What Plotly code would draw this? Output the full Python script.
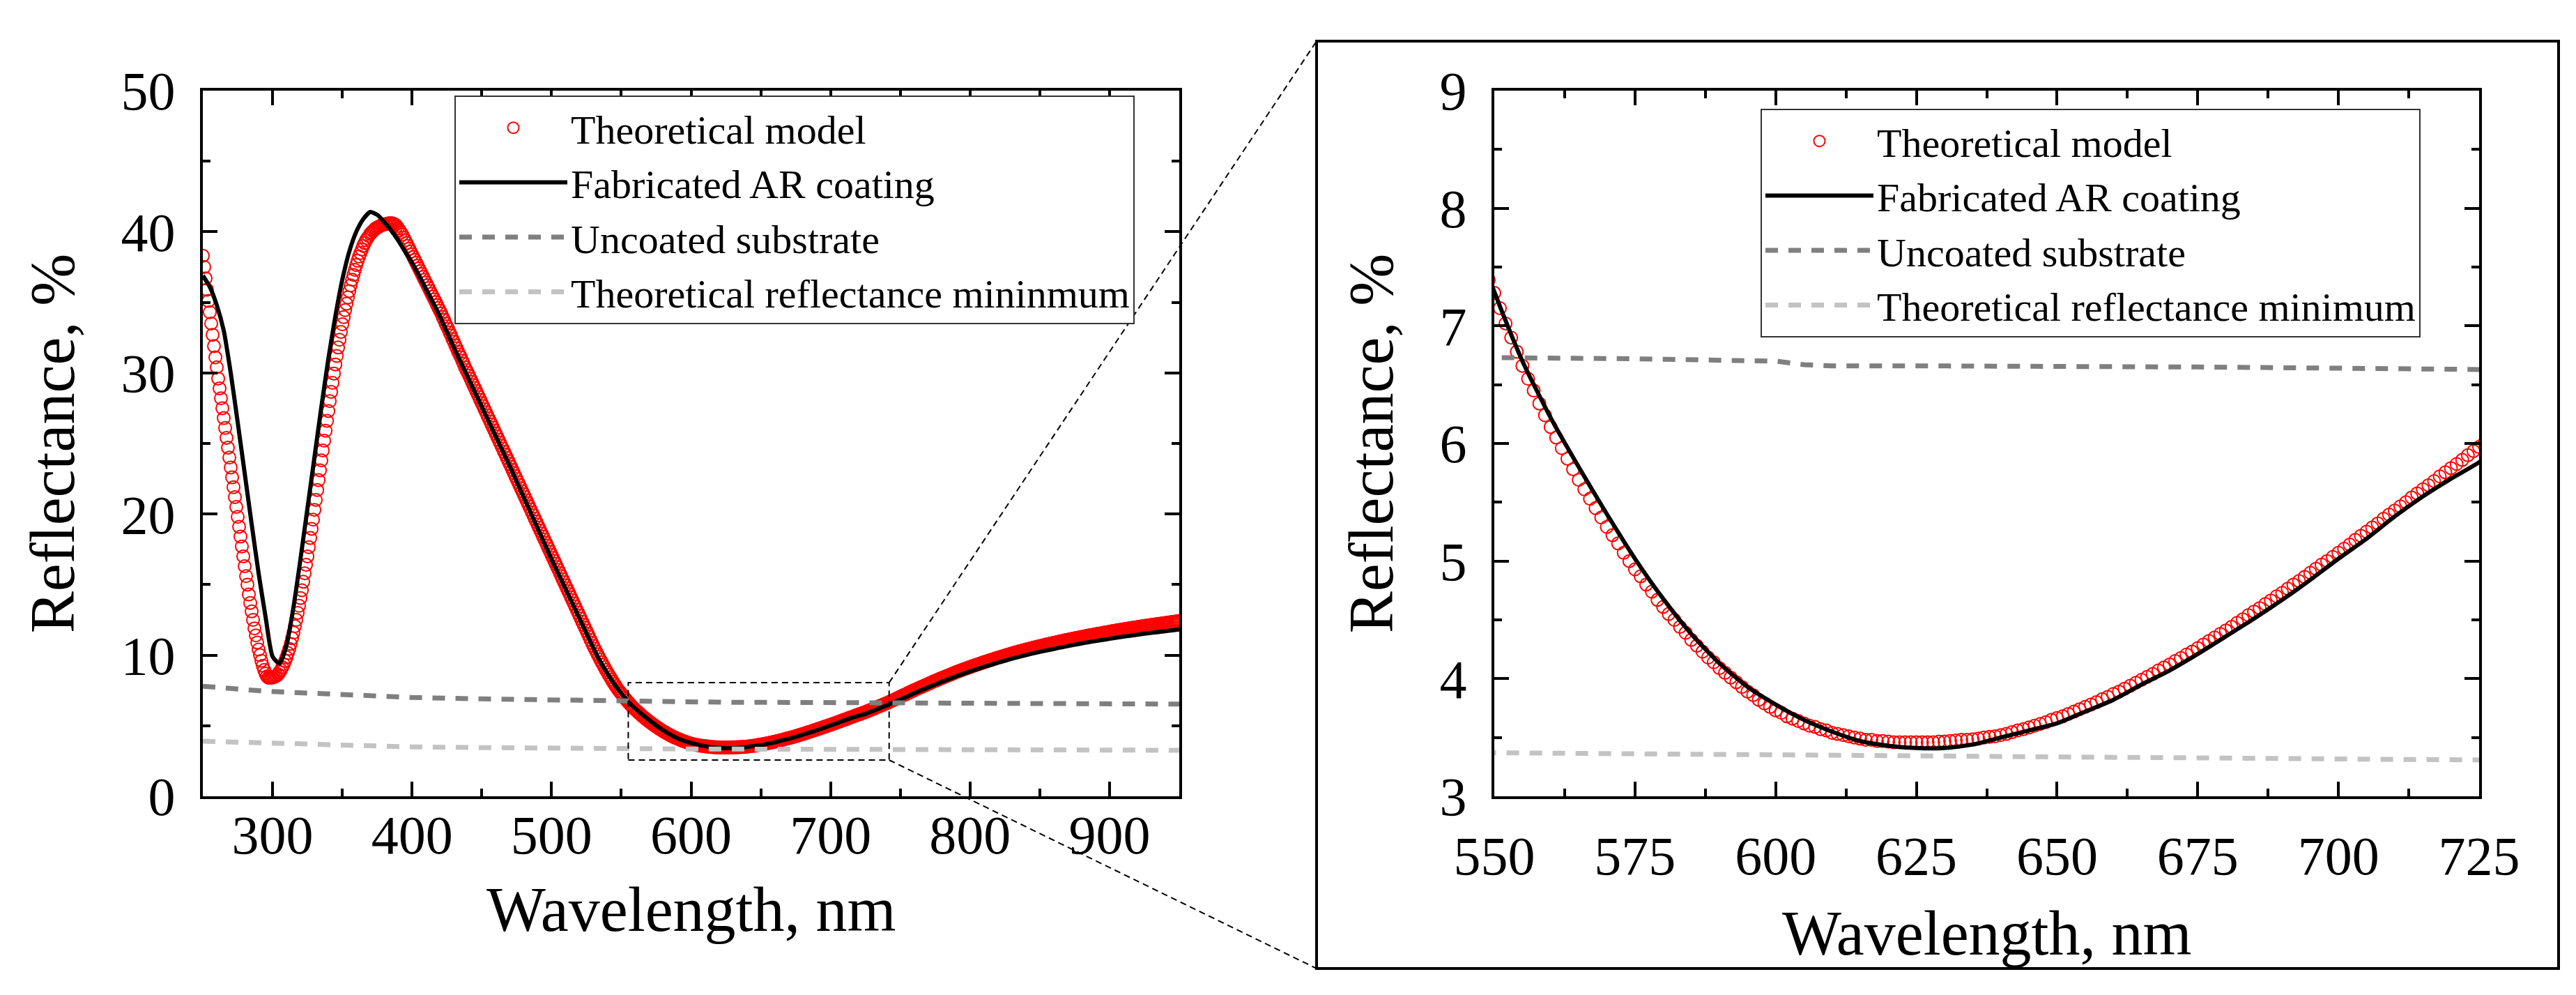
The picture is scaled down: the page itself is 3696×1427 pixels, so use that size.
import plotly.graph_objects as go

# ---------------- data ----------------
# Theoretical model (1 nm sampling), split in segments keyed by start wavelength
model_250 = [38.3, 37.5, 36.7, 35.9, 35.1, 34.3, 33.5, 32.7, 31.9, 31.1,
             30.4, 29.6, 28.9, 28.2, 27.5, 26.8, 26.1, 25.4, 24.7, 24.0,
             23.3, 22.6, 21.9, 21.2, 20.5, 19.8, 19.1, 18.4, 17.7, 17.0,
             16.3, 15.6, 15.0, 14.3, 13.7, 13.1, 12.5, 11.9, 11.4, 10.9,
             10.4, 10.0, 9.6, 9.25, 8.95, 8.7, 8.5, 8.4, 8.4, 8.4]
model_300 = [8.42, 8.45, 8.5, 8.55, 8.65, 8.8, 8.95, 9.15, 9.35, 9.6,
             9.85, 10.15, 10.45, 10.8, 11.2, 11.6, 12.05, 12.5, 13.0, 13.5,
             14.05, 14.6, 15.2, 15.8, 16.4, 17.0, 17.65, 18.3, 18.95, 19.6,
             20.3, 21.0, 21.7, 22.4, 23.1, 23.8, 24.5, 25.2, 25.9, 26.6,
             27.3, 28.0, 28.65, 29.3, 29.95, 30.6, 31.2, 31.8, 32.35, 32.9,
             33.45, 33.95, 34.45, 34.9, 35.35, 35.8, 36.2, 36.6, 36.95, 37.3,
             37.65, 37.95, 38.25, 38.5, 38.75, 39.0, 39.2, 39.4, 39.55, 39.7,
             39.85, 39.95, 40.05, 40.15, 40.25, 40.3, 40.35, 40.4, 40.45, 40.5,
             40.5, 40.55, 40.55, 40.6, 40.6, 40.6, 40.6, 40.55, 40.5, 40.4]
model_390 = [40.25, 40.1, 39.95, 39.8, 39.6, 39.4, 39.2, 39.0, 38.8, 38.6,
             38.4, 38.2, 38.0, 37.8, 37.6, 37.4, 37.2, 37.0, 36.8, 36.6,
             36.4, 36.2, 36.0, 35.8, 35.6, 35.4, 35.2, 35.0, 34.8, 34.6,
             34.4, 34.2, 33.95, 33.75, 33.5, 33.3, 33.1, 32.85, 32.65, 32.4,
             32.2, 31.95, 31.75, 31.5, 31.3, 31.1, 30.85, 30.65, 30.4, 30.2]
model_440 = [30.00, 29.79, 29.57, 29.36, 29.14, 28.93, 28.71, 28.50, 28.28, 28.07,
             27.85, 27.64, 27.42, 27.21, 26.99, 26.78, 26.56, 26.35, 26.13, 25.92,
             25.70, 25.49, 25.27, 25.06, 24.84, 24.63, 24.41, 24.20, 23.98, 23.77,
             23.55, 23.34, 23.12, 22.91, 22.69, 22.48, 22.26, 22.05, 21.83, 21.62,
             21.40, 21.19, 20.97, 20.76, 20.54, 20.33, 20.11, 19.90, 19.68, 19.47,
             19.25, 19.04, 18.82, 18.61, 18.39, 18.18, 17.96, 17.75, 17.53, 17.32,
             17.10, 16.89, 16.67, 16.46, 16.24, 16.03, 15.81, 15.60, 15.38, 15.17,
             14.95, 14.74, 14.52, 14.31, 14.09, 13.88, 13.66, 13.45, 13.23, 13.02,
             12.80, 12.59, 12.37, 12.16, 11.94, 11.73, 11.51, 11.30, 11.08, 10.87]
model_530 = [10.65, 10.45, 10.25, 10.06, 9.87, 9.68, 9.49, 9.31, 9.13, 8.95,
             8.78, 8.61, 8.44, 8.28, 8.12, 7.96, 7.81, 7.66, 7.52, 7.39]
model_550 = [7.28, 7.15, 7.02, 6.90, 6.78, 6.66, 6.55, 6.45, 6.34, 6.24,
             6.14, 6.05, 5.96, 5.87, 5.78, 5.69, 5.61, 5.53, 5.45, 5.37,
             5.29, 5.22, 5.15, 5.07, 5.00, 4.93, 4.87, 4.80, 4.74, 4.67,
             4.61, 4.55, 4.50, 4.44, 4.39, 4.33, 4.28, 4.23, 4.18, 4.14,
             4.09, 4.05, 4.01, 3.97, 3.93, 3.89, 3.86, 3.82, 3.79, 3.76,
             3.73, 3.71, 3.68, 3.66, 3.64, 3.62, 3.60, 3.59, 3.57, 3.56,
             3.54, 3.53, 3.52, 3.51, 3.50, 3.49, 3.48, 3.48, 3.47, 3.47,
             3.465, 3.46, 3.46, 3.46, 3.46, 3.46, 3.46, 3.46, 3.46, 3.465,
             3.465, 3.47, 3.475, 3.48, 3.48, 3.485, 3.49, 3.50, 3.505, 3.51,
             3.52, 3.53, 3.545, 3.56, 3.57, 3.585, 3.60, 3.615, 3.63, 3.65,
             3.665, 3.68, 3.70, 3.72, 3.74, 3.76, 3.78, 3.80, 3.825, 3.845,
             3.87, 3.89, 3.915, 3.94, 3.965, 3.99, 4.015, 4.04, 4.07, 4.095,
             4.12, 4.15, 4.175, 4.205, 4.23, 4.26, 4.29, 4.32, 4.35, 4.38,
             4.41, 4.44, 4.475, 4.505, 4.54, 4.57, 4.60, 4.635, 4.665, 4.70,
             4.73, 4.765, 4.80, 4.83, 4.865, 4.90, 4.935, 4.97, 5.00, 5.035,
             5.07, 5.105, 5.14, 5.18, 5.215, 5.25, 5.285, 5.32, 5.36, 5.395,
             5.43, 5.465, 5.50, 5.54, 5.575, 5.61, 5.645, 5.68, 5.72, 5.755,
             5.79, 5.825, 5.86, 5.90, 5.935]
model_725 = [5.97, 6.01, 6.05, 6.09, 6.13, 6.17, 6.21, 6.25, 6.30, 6.34,
             6.38, 6.42, 6.46, 6.51, 6.55, 6.59, 6.63, 6.68, 6.72, 6.77,
             6.81, 6.86, 6.91, 6.95, 7.00, 7.05, 7.10, 7.15, 7.19, 7.24,
             7.29, 7.34, 7.38, 7.43, 7.47, 7.52, 7.56, 7.61, 7.65, 7.70,
             7.74, 7.78, 7.83, 7.87, 7.92, 7.96, 8.00, 8.05, 8.09, 8.14,
             8.18, 8.22, 8.26, 8.31, 8.35, 8.39, 8.43, 8.47, 8.51, 8.55,
             8.59, 8.63, 8.67, 8.71, 8.75, 8.79, 8.83, 8.87, 8.90, 8.94,
             8.98, 9.02, 9.05, 9.09, 9.12, 9.16, 9.19, 9.23, 9.26, 9.30,
             9.33, 9.36, 9.40, 9.43, 9.47, 9.50, 9.53, 9.56, 9.60, 9.63,
             9.66, 9.69, 9.72, 9.76, 9.79, 9.82, 9.85, 9.88, 9.91, 9.94,
             9.97, 10.00, 10.03, 10.06, 10.09, 10.12, 10.15, 10.18, 10.20, 10.23,
             10.26, 10.29, 10.31, 10.34, 10.36, 10.39, 10.42, 10.44, 10.47, 10.49,
             10.52, 10.54, 10.57, 10.59, 10.62, 10.64, 10.66, 10.69, 10.71, 10.74,
             10.76, 10.78, 10.80, 10.83, 10.85, 10.87, 10.89, 10.91, 10.94, 10.96,
             10.98, 11.00, 11.02, 11.05, 11.07, 11.09, 11.11, 11.13, 11.15, 11.17,
             11.19, 11.21, 11.23, 11.25, 11.27, 11.29, 11.31, 11.33, 11.35, 11.37,
             11.39, 11.41, 11.43, 11.44, 11.46, 11.48, 11.50, 11.52, 11.53, 11.55,
             11.57, 11.59, 11.61, 11.62, 11.64, 11.66, 11.68, 11.70, 11.71, 11.73,
             11.75, 11.77, 11.78, 11.80, 11.81, 11.83, 11.85, 11.86, 11.88, 11.89,
             11.91, 11.93, 11.94, 11.96, 11.97, 11.99, 12.01, 12.02, 12.04, 12.05,
             12.07, 12.08, 12.10, 12.11, 12.13, 12.14, 12.15, 12.17, 12.18, 12.20,
             12.21, 12.22, 12.24, 12.25, 12.27, 12.28, 12.29, 12.31, 12.32, 12.34,
             12.35, 12.36, 12.38, 12.39, 12.41, 12.42]
model_segments = [(250, model_250), (300, model_300), (390, model_390), (440, model_440),
                  (530, model_530), (550, model_550), (725, model_725)]

# Fabricated AR coating (measured, 5 nm sampling)
meas_wl = list(range(250, 951, 5))
meas_R = [36.9, 36.1, 34.8, 33.0, 30.0, 26.5, 22.9, 19.3, 15.8, 12.7,
          9.9, 9.4, 10.7, 13.4, 16.8, 20.4, 24.0, 27.6, 31.0, 34.0,
          36.6, 38.6, 40.0, 40.9, 41.4, 41.2, 40.7, 40.1, 39.4, 38.6,
          37.8, 36.9, 35.95, 35.0, 34.0, 32.9, 31.8, 30.75, 29.7, 28.65,
          27.6, 26.55, 25.5, 24.45, 23.4, 22.3, 21.2, 20.1, 19.0, 17.9,
          16.8, 15.75, 14.7, 13.65, 12.6, 11.55, 10.5, 9.55, 8.7, 7.95,
          7.29, 6.70, 6.22, 5.80, 5.40, 5.02, 4.68, 4.38, 4.13, 3.93,
          3.78, 3.65, 3.55, 3.47, 3.43, 3.41, 3.41, 3.44, 3.50, 3.56,
          3.62, 3.72, 3.82, 3.95, 4.07, 4.21, 4.36, 4.51, 4.67, 4.84,
          5.02, 5.19, 5.38, 5.55, 5.70, 5.84, 6.03, 6.23, 6.43, 6.64,
          6.85, 7.08, 7.30, 7.51, 7.72, 7.92, 8.12, 8.31, 8.50, 8.68,
          8.85, 9.01, 9.17, 9.32, 9.47, 9.61, 9.75, 9.88, 10.00, 10.12,
          10.23, 10.34, 10.44, 10.54, 10.64, 10.74, 10.83, 10.92, 11.00, 11.08,
          11.16, 11.24, 11.31, 11.38, 11.45, 11.52, 11.58, 11.64, 11.70, 11.76,
          11.82]

# Uncoated substrate
sub_wl = [250, 260, 270, 280, 290, 300, 325, 350, 375, 400, 450, 500, 550, 575,
          600, 605, 610, 625, 650, 675, 700, 725, 750, 800, 850, 900, 950]
sub_R = [7.80, 7.70, 7.62, 7.55, 7.48, 7.42, 7.30, 7.18, 7.08, 7.00, 6.90, 6.81, 6.73, 6.72,
         6.70, 6.67, 6.66, 6.66, 6.66, 6.65, 6.64, 6.62, 6.61, 6.59, 6.57, 6.55, 6.53]

# Theoretical reflectance minimum
tmin_wl = [250, 275, 300, 325, 350, 400, 450, 500, 550, 600, 650, 700, 725, 750, 800, 850, 900, 950]
tmin_R = [3.90, 3.82, 3.75, 3.66, 3.58, 3.50, 3.45, 3.40, 3.37, 3.35, 3.34, 3.32, 3.31, 3.30,
          3.29, 3.28, 3.27, 3.26]

names_left = ["Theoretical model", "Fabricated AR coating", "Uncoated substrate",
              "Theoretical reflectance mininmum"]
names_right = ["Theoretical model", "Fabricated AR coating", "Uncoated substrate",
               "Theoretical reflectance minimum"]
x_title = "Wavelength, nm"
y_title = "Reflectance, %"

# axis ranges / zoom window
left_xrange, left_yrange = [250, 950], [0, 50]
right_xrange, right_yrange = [550, 725], [3, 9]
zoom_box_x, zoom_box_y = [555, 742], [2.57, 8.05]

# build model arrays
model_wl, model_R = [], []
for start, vals in model_segments:
    model_wl += [start + i for i in range(len(vals))]
    model_R += vals

# ---------------- layout geometry ----------------
W, H = 3696, 1427
FONT = "Liberation Serif"
left_xdom = [283 / W, 1684 / W]
right_xdom = [2136 / W, 3549 / W]
ydom = [1 - 1134 / H, 1 - 122 / H]
outer = dict(x0=1881 / W, x1=3663 / W, y0=1 - 1381 / H, y1=1 - 51 / H)
xtitle_y_left = 1 - 1296 / H
xtitle_y_right = 1 - 1330 / H

RED = "#ff0000"
DARK = "#7f7f7f"
LIGHT = "#c3c3c3"

fig = go.Figure()


def add_set(xa, ya, leg, names):
    fig.add_trace(go.Scatter(x=model_wl, y=model_R, mode="markers", name=names[0],
                             marker=dict(symbol="circle-open", size=18, color=RED,
                                         line=dict(width=2, color=RED)),
                             xaxis=xa, yaxis=ya, legend=leg))
    fig.add_trace(go.Scatter(x=meas_wl, y=meas_R, mode="lines", name=names[1],
                             line=dict(color="black", width=6, shape="spline", smoothing=0.6),
                             xaxis=xa, yaxis=ya, legend=leg))
    fig.add_trace(go.Scatter(x=sub_wl, y=sub_R, mode="lines", name=names[2],
                             line=dict(color=DARK, width=7, dash="18px,15px"),
                             xaxis=xa, yaxis=ya, legend=leg))
    fig.add_trace(go.Scatter(x=tmin_wl, y=tmin_R, mode="lines", name=names[3],
                             line=dict(color=LIGHT, width=7, dash="18px,15px"),
                             xaxis=xa, yaxis=ya, legend=leg))


add_set("x", "y", "legend", names_left)
add_set("x2", "y2", "legend2", names_right)


def axis_common(**kw):
    d = dict(showline=True, linewidth=4, linecolor="black", mirror="ticks",
             ticks="inside", ticklen=21, tickwidth=4, tickcolor="black",
             showgrid=False, zeroline=False, automargin=False,
             tickfont=dict(family=FONT, size=78, color="black"),
             title_font=dict(family=FONT, size=90, color="black"))
    d.update(kw)
    return d


def legend_common(x, y):
    return dict(x=x, y=y, xanchor="left", yanchor="top",
                bordercolor="#333333", borderwidth=2, bgcolor="white",
                font=dict(family=FONT, size=58, color="black"), itemwidth=155,
                traceorder="normal")


fig.update_layout(
    template="none",
    width=W, height=H, autosize=False,
    margin=dict(l=0, r=0, t=0, b=0, pad=0),
    paper_bgcolor="white", plot_bgcolor="white",
    font=dict(family=FONT, color="black"),
    xaxis=axis_common(domain=left_xdom, range=left_xrange, anchor="y", dtick=100, tick0=0,
                      minor=dict(dtick=50, ticks="inside", ticklen=11, tickwidth=4, tickcolor="black"),
                      ticklabelstandoff=-16),
    yaxis=axis_common(domain=ydom, range=left_yrange, anchor="x", dtick=10, tick0=0,
                      minor=dict(dtick=5, ticks="inside", ticklen=11, tickwidth=4, tickcolor="black"),
                      title=dict(text=y_title, standoff=38), ticklabelstandoff=20),
    xaxis2=axis_common(domain=right_xdom, range=right_xrange, anchor="y2", dtick=25, tick0=550,
                       minor=dict(dtick=12.5, ticks="inside", ticklen=11, tickwidth=4, tickcolor="black"),
                       ticklabelstandoff=14),
    yaxis2=axis_common(domain=ydom, range=right_yrange, anchor="x2", dtick=1, tick0=3,
                       minor=dict(dtick=0.5, ticks="inside", ticklen=11, tickwidth=4, tickcolor="black"),
                       title=dict(text=y_title, standoff=38), ticklabelstandoff=20),
    legend=legend_common(644 / W, 1 - 129 / H),
    legend2=legend_common(2518 / W, 1 - 148 / H),
)

# x-axis titles
for dom, ty in ((left_xdom, xtitle_y_left), (right_xdom, xtitle_y_right)):
    fig.add_annotation(text=x_title, xref="paper", yref="paper",
                       x=(dom[0] + dom[1]) / 2, y=ty, xanchor="center", yanchor="middle",
                       showarrow=False, font=dict(family=FONT, size=90, color="black"))


def px(v):
    return left_xdom[0] + (v - left_xrange[0]) / (left_xrange[1] - left_xrange[0]) * (left_xdom[1] - left_xdom[0])


def py(v):
    return ydom[0] + (v - left_yrange[0]) / (left_yrange[1] - left_yrange[0]) * (ydom[1] - ydom[0])


shapes = [
    dict(type="rect", xref="x", yref="y", x0=zoom_box_x[0], x1=zoom_box_x[1],
         y0=zoom_box_y[0], y1=zoom_box_y[1], line=dict(color="black", width=2, dash="9px,6px")),
    dict(type="rect", xref="paper", yref="paper", line=dict(color="black", width=4), **outer),
    dict(type="line", xref="paper", yref="paper", x0=px(zoom_box_x[1]), y0=py(zoom_box_y[1]),
         x1=outer["x0"], y1=outer["y1"], line=dict(color="black", width=2, dash="9px,6px")),
    dict(type="line", xref="paper", yref="paper", x0=px(zoom_box_x[1]), y0=py(zoom_box_y[0]),
         x1=outer["x0"], y1=outer["y0"], line=dict(color="black", width=2, dash="9px,6px")),
]
fig.update_layout(shapes=shapes)

fig.write_html("out.html")
